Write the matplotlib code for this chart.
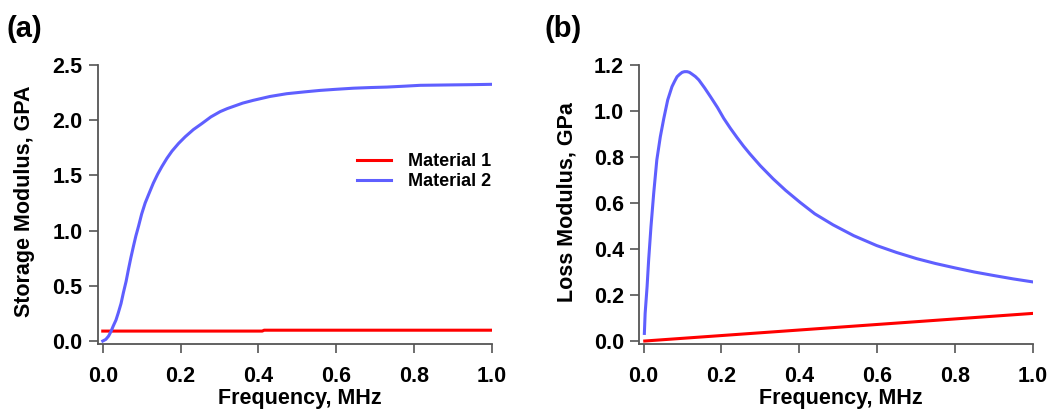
import matplotlib
matplotlib.use('Agg')
import matplotlib.pyplot as plt

# ---------------- data ----------------
# (a) Storage modulus, GPa
freq_storage_m1 = [0.0, 0.41, 0.415, 1.0]
storage_m1 = [0.090, 0.090, 0.098, 0.098]

freq_storage_m2 = [0.0, 0.008, 0.015, 0.021, 0.027, 0.034, 0.040, 0.047, 0.053, 0.060,
                   0.066, 0.072, 0.079, 0.085, 0.092, 0.100, 0.109, 0.120, 0.130,
                   0.141, 0.152, 0.165, 0.178, 0.195, 0.212, 0.233, 0.255, 0.278,
                   0.302, 0.320, 0.340, 0.360, 0.387, 0.430, 0.473, 0.520, 0.559,
                   0.600, 0.645, 0.690, 0.730, 0.775, 0.816, 0.860, 0.902, 0.950, 1.0]
storage_m2 = [0.0, 0.015, 0.045, 0.085, 0.136, 0.19, 0.256, 0.34, 0.437, 0.54,
              0.648, 0.75, 0.86, 0.95, 1.04, 1.15, 1.25, 1.345, 1.43,
              1.51, 1.58, 1.655, 1.72, 1.79, 1.85, 1.915, 1.97, 2.03,
              2.078, 2.105, 2.13, 2.155, 2.18, 2.215, 2.24, 2.257, 2.27,
              2.28, 2.29, 2.296, 2.30, 2.308, 2.316, 2.318, 2.32, 2.322, 2.325]

# (b) Loss modulus, GPa
freq_loss_m1 = [0.003, 1.0]
loss_m1 = [0.0, 0.12]

freq_loss_m2 = [0.002, 0.004, 0.009, 0.013, 0.019, 0.026, 0.034, 0.043, 0.052, 0.062,
                0.073, 0.080, 0.086, 0.093, 0.099, 0.105, 0.112, 0.118, 0.124, 0.133,
                0.142, 0.157, 0.172, 0.190, 0.206, 0.223, 0.240, 0.257, 0.273, 0.300,
                0.333, 0.365, 0.402, 0.440, 0.487, 0.540, 0.599, 0.650, 0.702, 0.750,
                0.80, 0.850, 0.899, 0.950, 1.0]
loss_m2 = [0.033, 0.12, 0.236, 0.352, 0.497, 0.642, 0.787, 0.888, 0.968, 1.048,
           1.106, 1.13, 1.149, 1.16, 1.168, 1.171, 1.171, 1.168, 1.161, 1.15,
           1.135, 1.10, 1.062, 1.015, 0.968, 0.925, 0.885, 0.847, 0.814, 0.762,
           0.705, 0.655, 0.603, 0.553, 0.505, 0.458, 0.415, 0.385, 0.358, 0.337,
           0.318, 0.300, 0.285, 0.270, 0.257]

x_ticks = [0.0, 0.2, 0.4, 0.6, 0.8, 1.0]
y_ticks_a = [0.0, 0.5, 1.0, 1.5, 2.0, 2.5]
y_ticks_b = [0.0, 0.2, 0.4, 0.6, 0.8, 1.0, 1.2]

labels = ['Material 1', 'Material 2']
RED = '#FF0000'
BLUE = '#5F5FFF'

# ---------------- figure ----------------
plt.rcParams['font.family'] = ['Liberation Sans', 'DejaVu Sans']
plt.rcParams['font.weight'] = 'bold'

W, H = 1050, 411
fig = plt.figure(figsize=(W / 100, H / 100), dpi=100)
ax1 = fig.add_axes([97.7 / W, (H - 344) / H, 394 / W, 279 / H])
ax2 = fig.add_axes([639.3 / W, (H - 344) / H, 393.4 / W, 279 / H])

SPINE = '#555555'


def style(ax, yticks, ylabel):
    for s in ('top', 'right'):
        ax.spines[s].set_visible(False)
    for s in ('left', 'bottom'):
        ax.spines[s].set_color(SPINE)
        ax.spines[s].set_linewidth(1.3)
    ax.tick_params(direction='out', length=6.5, width=1.2, color=SPINE,
                   labelsize=15.5, labelcolor='black')
    ax.tick_params(axis='y', pad=4.5)
    ax.tick_params(axis='x', pad=9.5)
    ax.set_xticks(x_ticks)
    ax.set_xticklabels([f'{v:.1f}' for v in x_ticks])
    ax.set_yticks(yticks)
    ax.set_yticklabels([f'{v:.1f}' for v in yticks])
    for t in ax.get_xticklabels() + ax.get_yticklabels():
        t.set_fontweight('bold')
    ax.set_xlabel('Frequency, MHz', fontsize=15.5, fontweight='bold')
    ax.set_ylabel(ylabel, fontsize=15.5, fontweight='bold')
    ax.xaxis.set_label_coords(0.513, -0.157)
    ax.yaxis.set_label_coords(-0.158, 0.51)


lw = 2.2
ax1.plot(freq_storage_m1, storage_m1, color=RED, lw=lw, label=labels[0])
ax1.plot(freq_storage_m2, storage_m2, color=BLUE, lw=lw, label=labels[1])
ax1.set_xlim(-0.013, 1.0)
ax1.set_ylim(-0.027, 2.5)
style(ax1, y_ticks_a, 'Storage Modulus, GPA')

leg = ax1.legend(loc='center left', bbox_to_anchor=((357 - 97.7) / 394, 0.618),
                 frameon=False, borderpad=0, borderaxespad=0,
                 handlelength=1.9, handletextpad=0.9, labelspacing=0.15,
                 prop={'size': 13, 'weight': 'bold'})

ax2.plot(freq_loss_m1, loss_m1, color=RED, lw=lw)
ax2.plot(freq_loss_m2, loss_m2, color=BLUE, lw=lw)
ax2.set_xlim(-0.011, 1.0)
ax2.set_ylim(-0.013, 1.2)
style(ax2, y_ticks_b, 'Loss Modulus, GPa')

fig.text(7 / W, 1 - 29 / H, '(a)', fontsize=21, fontweight='bold', va='center', ha='left')
fig.text(545 / W, 1 - 29 / H, '(b)', fontsize=21, fontweight='bold', va='center', ha='left')

fig.savefig('out.png', dpi=100)
